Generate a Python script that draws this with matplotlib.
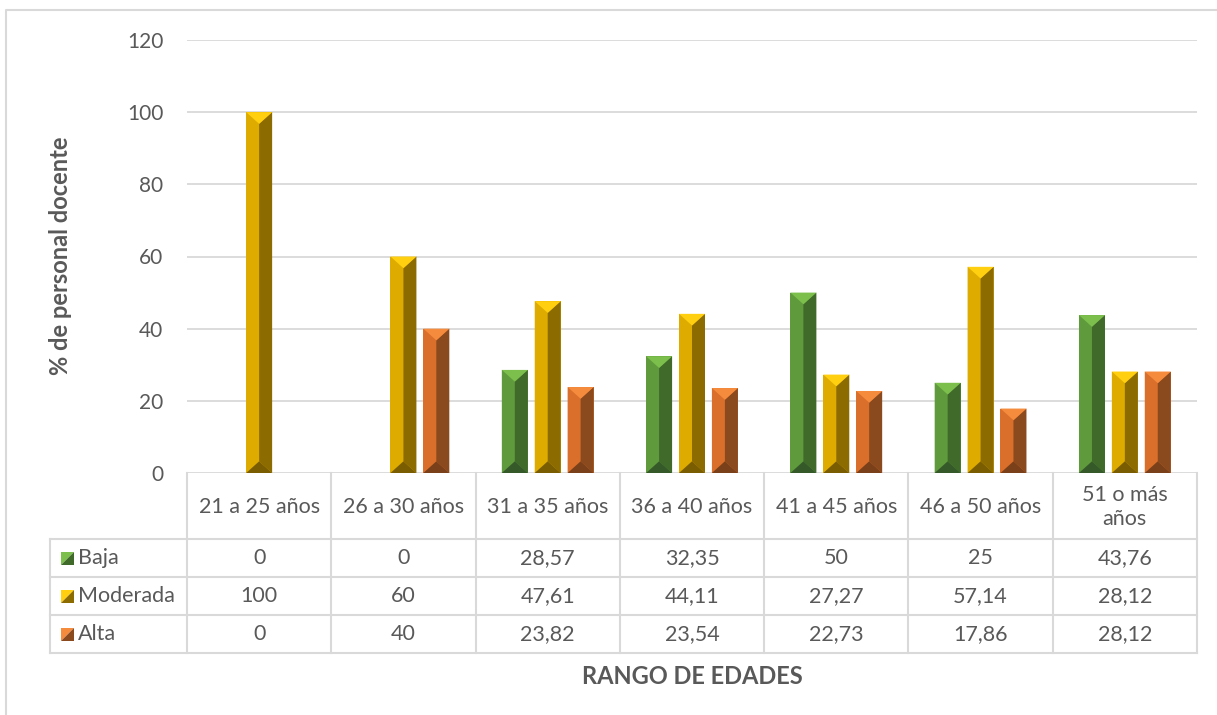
import matplotlib
matplotlib.use("Agg")
import matplotlib.pyplot as plt
from matplotlib.patches import Polygon
from matplotlib.lines import Line2D

# ---- data ----
categories = ["21 a 25 años", "26 a 30 años", "31 a 35 años", "36 a 40 años",
              "41 a 45 años", "46 a 50 años", "51 o más\naños"]
series_names = ["Baja", "Moderada", "Alta"]
baja = [0, 0, 28.57, 32.35, 50, 25, 43.76]
moderada = [100, 60, 47.61, 44.11, 27.27, 57.14, 28.12]
alta = [0, 40, 23.82, 23.54, 22.73, 17.86, 28.12]
baja_lbl = ["0", "0", "28,57", "32,35", "50", "25", "43,76"]
moderada_lbl = ["100", "60", "47,61", "44,11", "27,27", "57,14", "28,12"]
alta_lbl = ["0", "40", "23,82", "23,54", "22,73", "17,86", "28,12"]
y_ticks = [0, 20, 40, 60, 80, 100, 120]

# bevel shades: (left face, right face, top, bottom)
shades = {
    "Baja": ("#5f9a3c", "#3f6a2a", "#7cbf4c", "#36592a"),
    "Moderada": ("#deab00", "#8c6b00", "#ffcf10", "#7a5d00"),
    "Alta": ("#d96f2a", "#8a4a1e", "#f58b3c", "#7a4019"),
}

W, H = 1217, 715
fig = plt.figure(figsize=(W / 100, H / 100), dpi=100)
FONT = "Lato"
TXT = "#595959"
GRID = "#d9d9d9"
FS = 15.5

# pixel layout of the plot area
px_left, px_right, px_top, px_base = 187, 1197, 40, 473
ax = fig.add_axes([px_left / W, 1 - px_base / H,
                   (px_right - px_left) / W, (px_base - px_top) / H])
ax.set_xlim(0, len(categories))
ax.set_ylim(0, 120)
ax.set_yticks(y_ticks)
ax.set_yticklabels([str(v) for v in y_ticks], fontsize=15, color=TXT, family=FONT)
ax.tick_params(axis="y", length=0, pad=17)
ax.set_xticks([])
for s in ax.spines.values():
    s.set_visible(False)
ax.grid(axis="y", color=GRID, linewidth=1.3)
ax.set_axisbelow(True)

bar_w = 0.18
step = 0.228
values = [baja, moderada, alta]
ppu_y = (px_base - px_top) / 120.0          # pixels per data unit (y)
ppu_x = (px_right - px_left) / len(categories)


def bevel(axis, x0, x1, y0, y1, cols, dy):
    xc = (x0 + x1) / 2
    d = min(dy, (y1 - y0) / 2)
    lf, rf, tp, bt = cols
    axis.add_patch(Polygon([(x0, y0), (xc, y0 + d), (xc, y1 - d), (x0, y1)],
                           closed=True, fc=lf, ec="none", zorder=3))
    axis.add_patch(Polygon([(x1, y0), (xc, y0 + d), (xc, y1 - d), (x1, y1)],
                           closed=True, fc=rf, ec="none", zorder=3))
    axis.add_patch(Polygon([(x0, y1), (x1, y1), (xc, y1 - d)],
                           closed=True, fc=tp, ec="none", zorder=4))
    axis.add_patch(Polygon([(x0, y0), (x1, y0), (xc, y0 + d)],
                           closed=True, fc=bt, ec="none", zorder=4))


for k, (name, vals) in enumerate(zip(series_names, values)):
    xs = [i + 0.5 + (k - 1) * step for i in range(len(categories))]
    bars = ax.bar(xs, vals, width=bar_w, color=shades[name][0], zorder=2)
    for b in bars:
        h = b.get_height()
        if h <= 0:
            continue
        x0 = b.get_x()
        x1 = x0 + b.get_width()
        half_px = b.get_width() * ppu_x / 2
        bevel(ax, x0, x1, 0, h, shades[name], half_px * 0.9 / ppu_y)

# ---- data table under the plot, in pixel coordinates ----
ov = fig.add_axes([0, 0, 1, 1])
ov.set_xlim(0, W)
ov.set_ylim(H, 0)
ov.axis("off")
ov.patch.set_alpha(0)

# outer chart border
ov.add_line(Line2D([6, 6, W + 5], [H + 5, 10, 10], color=GRID, lw=1.5))

col_edges = [px_left + i * ppu_x for i in range(len(categories) + 1)]
row_edges = [px_base, 539, 577, 615, 653]
tab_left = 50

# vertical lines
for x in col_edges:
    ov.add_line(Line2D([x, x], [px_base, row_edges[-1]], color=GRID, lw=1.5))
ov.add_line(Line2D([tab_left, tab_left], [row_edges[1], row_edges[-1]], color=GRID, lw=1.5))
# horizontal lines
for y in row_edges[1:]:
    ov.add_line(Line2D([tab_left, px_right], [y, y], color=GRID, lw=1.5))

# header
for i, c in enumerate(categories):
    cx = (col_edges[i] + col_edges[i + 1]) / 2
    ov.text(cx, (row_edges[0] + row_edges[1]) / 2 + 1, c, ha="center", va="center",
            fontsize=FS, color=TXT, family=FONT, linespacing=1.2)

labels = [baja_lbl, moderada_lbl, alta_lbl]
for r, name in enumerate(series_names):
    yc = (row_edges[r + 1] + row_edges[r + 2]) / 2
    # legend key
    kx0, kx1 = 61, 74
    ky0, ky1 = yc + 7, yc - 6
    lf, rf, tp, bt = shades[name]
    ov.add_patch(Polygon([(kx0, ky0), (kx1, ky1), (kx0, ky1)], closed=True, fc=tp, ec="none"))
    ov.add_patch(Polygon([(kx0, ky0), (kx1, ky1), (kx1, ky0)], closed=True, fc=rf, ec="none"))
    ov.text(78, yc, name, ha="left", va="center", fontsize=FS, color=TXT, family=FONT)
    for i, t in enumerate(labels[r]):
        cx = (col_edges[i] + col_edges[i + 1]) / 2
        ov.text(cx, yc, t, ha="center", va="center", fontsize=FS, color=TXT, family=FONT)

# axis titles
ov.text(60, 256, "% de personal docente", rotation=90, ha="center", va="center",
        fontsize=17, fontweight="bold", color=TXT, family=FONT)
ov.text((px_left + px_right) / 2, 677, "RANGO DE EDADES", ha="center", va="center",
        fontsize=17, fontweight="bold", color=TXT, family=FONT)

fig.savefig("out.png", dpi=100)
